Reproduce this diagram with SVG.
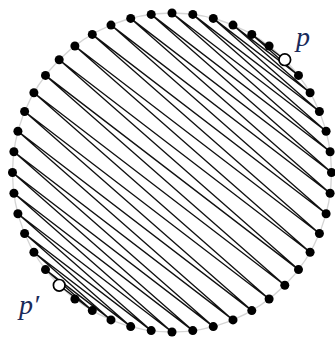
<svg xmlns="http://www.w3.org/2000/svg" width="335" height="341" viewBox="0 0 335 341">
<style>
.dot{fill:#000}
.open{fill:#fff;stroke:#000;stroke-width:1.7}
.ring{fill:none;stroke:#d4d4d4;stroke-width:1.3}
.edge{fill:none;stroke:#111;stroke-width:1.35;stroke-linejoin:round;stroke-linecap:round}
.lbl{font-family:"Liberation Serif",serif;font-style:italic;font-size:28px;fill:#1a2a5a}
</style>
<rect width="335" height="341" fill="#fff"/>
<circle class="ring" cx="172" cy="172.5" r="159.5"/>
<g id="connectors">
<polyline class="edge" points="284.8,59.7 251.8,34.4 298.5,75.4 233.0,25.1 310.1,92.8 213.3,18.4 319.4,111.5 192.8,14.4 326.1,131.2 172,13 330.1,151.7 151.2,14.4 331.5,172.5 130.7,18.4 330.1,193.3 111.0,25.1 326.1,213.8 92.3,34.4 319.4,233.5 74.9,46.0 310.1,252.3 59.2,59.7 298.5,269.6 45.5,75.4 284.8,285.3 33.9,92.8 269.1,299.0 24.6,111.5 251.8,310.6 17.9,131.2 233.0,319.9 13.9,151.7 213.3,326.6 12.5,172.5 192.8,330.6 13.9,193.3 172,332 17.9,213.8 151.2,330.6 24.6,233.5 130.7,326.6 33.9,252.3 111.0,319.9 45.5,269.6 92.3,310.6 59.2,285.3"/>
</g>
<g id="n0"><circle class="dot" cx="331.5" cy="172.5" r="4.5"/></g>
<g id="n1"><circle class="dot" cx="330.1" cy="151.7" r="4.5"/></g>
<g id="n2"><circle class="dot" cx="326.1" cy="131.2" r="4.5"/></g>
<g id="n3"><circle class="dot" cx="319.4" cy="111.5" r="4.5"/></g>
<g id="n4"><circle class="dot" cx="310.1" cy="92.8" r="4.5"/></g>
<g id="n5"><circle class="dot" cx="298.5" cy="75.4" r="4.5"/></g>
<g id="p"><circle class="open" cx="284.8" cy="59.7" r="5.8"/><text class="lbl" x="296" y="46">p</text></g>
<g id="n7"><circle class="dot" cx="269.1" cy="46.0" r="4.5"/></g>
<g id="n8"><circle class="dot" cx="251.8" cy="34.4" r="4.5"/></g>
<g id="n9"><circle class="dot" cx="233.0" cy="25.1" r="4.5"/></g>
<g id="n10"><circle class="dot" cx="213.3" cy="18.4" r="4.5"/></g>
<g id="n11"><circle class="dot" cx="192.8" cy="14.4" r="4.5"/></g>
<g id="n12"><circle class="dot" cx="172" cy="13" r="4.5"/></g>
<g id="n13"><circle class="dot" cx="151.2" cy="14.4" r="4.5"/></g>
<g id="n14"><circle class="dot" cx="130.7" cy="18.4" r="4.5"/></g>
<g id="n15"><circle class="dot" cx="111.0" cy="25.1" r="4.5"/></g>
<g id="n16"><circle class="dot" cx="92.3" cy="34.4" r="4.5"/></g>
<g id="n17"><circle class="dot" cx="74.9" cy="46.0" r="4.5"/></g>
<g id="n18"><circle class="dot" cx="59.2" cy="59.7" r="4.5"/></g>
<g id="n19"><circle class="dot" cx="45.5" cy="75.4" r="4.5"/></g>
<g id="n20"><circle class="dot" cx="33.9" cy="92.8" r="4.5"/></g>
<g id="n21"><circle class="dot" cx="24.6" cy="111.5" r="4.5"/></g>
<g id="n22"><circle class="dot" cx="17.9" cy="131.2" r="4.5"/></g>
<g id="n23"><circle class="dot" cx="13.9" cy="151.7" r="4.5"/></g>
<g id="n24"><circle class="dot" cx="12.5" cy="172.5" r="4.5"/></g>
<g id="n25"><circle class="dot" cx="13.9" cy="193.3" r="4.5"/></g>
<g id="n26"><circle class="dot" cx="17.9" cy="213.8" r="4.5"/></g>
<g id="n27"><circle class="dot" cx="24.6" cy="233.5" r="4.5"/></g>
<g id="n28"><circle class="dot" cx="33.9" cy="252.3" r="4.5"/></g>
<g id="n29"><circle class="dot" cx="45.5" cy="269.6" r="4.5"/></g>
<g id="pp"><circle class="open" cx="59.2" cy="285.3" r="5.8"/><text class="lbl" x="19" y="314">p′</text></g>
<g id="n31"><circle class="dot" cx="74.9" cy="299.0" r="4.5"/></g>
<g id="n32"><circle class="dot" cx="92.3" cy="310.6" r="4.5"/></g>
<g id="n33"><circle class="dot" cx="111.0" cy="319.9" r="4.5"/></g>
<g id="n34"><circle class="dot" cx="130.7" cy="326.6" r="4.5"/></g>
<g id="n35"><circle class="dot" cx="151.2" cy="330.6" r="4.5"/></g>
<g id="n36"><circle class="dot" cx="172" cy="332" r="4.5"/></g>
<g id="n37"><circle class="dot" cx="192.8" cy="330.6" r="4.5"/></g>
<g id="n38"><circle class="dot" cx="213.3" cy="326.6" r="4.5"/></g>
<g id="n39"><circle class="dot" cx="233.0" cy="319.9" r="4.5"/></g>
<g id="n40"><circle class="dot" cx="251.8" cy="310.6" r="4.5"/></g>
<g id="n41"><circle class="dot" cx="269.1" cy="299.0" r="4.5"/></g>
<g id="n42"><circle class="dot" cx="284.8" cy="285.3" r="4.5"/></g>
<g id="n43"><circle class="dot" cx="298.5" cy="269.6" r="4.5"/></g>
<g id="n44"><circle class="dot" cx="310.1" cy="252.3" r="4.5"/></g>
<g id="n45"><circle class="dot" cx="319.4" cy="233.5" r="4.5"/></g>
<g id="n46"><circle class="dot" cx="326.1" cy="213.8" r="4.5"/></g>
<g id="n47"><circle class="dot" cx="330.1" cy="193.3" r="4.5"/></g>
</svg>
